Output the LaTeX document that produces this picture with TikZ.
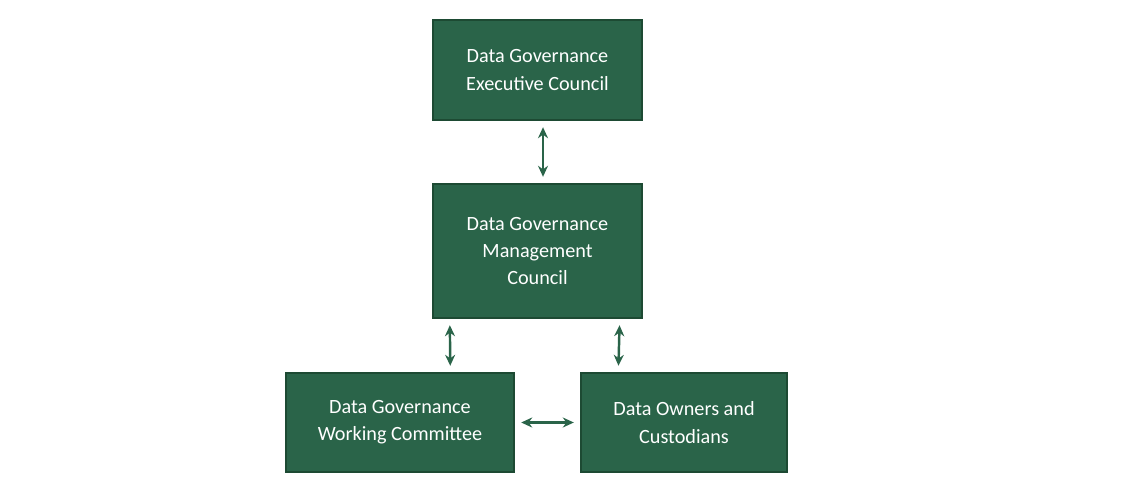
\documentclass[tikz,border=0pt]{standalone}
\usepackage{fontspec}
\setmainfont{Carlito}
\usetikzlibrary{arrows.meta, positioning}
\definecolor{boxgreen}{HTML}{2A6449}
\definecolor{boxedge}{HTML}{1D4A33}

\begin{document}
\begin{tikzpicture}[
    council/.style={rectangle, draw=boxedge, thick, fill=boxgreen, text=white, align=center, font=\fontsize{11.5}{15.5}\selectfont, inner sep=0pt},
    link/.style={{Stealth[length=2.2mm,width=2mm]}-{Stealth[length=2.2mm,width=2mm]}, boxgreen, line width=1.4pt, shorten <=1.3mm, shorten >=1.3mm}
]
\useasboundingbox (0,0) rectangle (22.76,-9.84);

\node[council, minimum width=4.18cm, minimum height=2cm] (exec) at (10.75,-1.4) {Data Governance\\Executive Council};
\node[council, minimum width=4.18cm, minimum height=2.68cm] (mgmt) at (10.75,-5.02) {Data Governance\\Management\\Council};
\node[council, minimum width=4.56cm, minimum height=1.98cm] (work) at (8,-8.45) {Data Governance\\Working Committee};
\node[council, minimum width=4.12cm, minimum height=1.98cm] (owners) at (13.68,-8.45) {Data Owners and\\Custodians};

% Arrows
\draw[link] ([xshift=1.1mm]exec.south) -- ([xshift=1.1mm]mgmt.north);
\draw[link] ([xshift=3.5mm]mgmt.south west) -- ([xshift=3.3cm]work.north west);
\draw[link] ([xshift=-4.6mm]mgmt.south east) -- ([xshift=0.76cm]owners.north west);
\draw[link] (work) -- (owners);
\end{tikzpicture}
\end{document}
